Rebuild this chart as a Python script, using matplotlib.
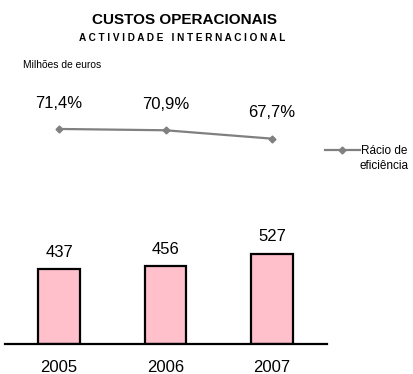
import matplotlib
matplotlib.use("Agg")
import matplotlib.pyplot as plt

plt.rcParams['font.family'] = ['Liberation Sans', 'DejaVu Sans']

years = ["2005", "2006", "2007"]
costs = [437, 456, 527]
cost_labels = ["437", "456", "527"]
ratio = [71.4, 70.9, 67.7]
ratio_labels = ["71,4%", "70,9%", "67,7%"]
legend_label = ["Rácio de", "eficiência"]

W, H = 413, 374
fig = plt.figure(figsize=(W / 100, H / 100), dpi=100)

# axes in pixel coordinates
x0, x1 = 5, 327
ytop, ybot = 60, 343.7
ax = fig.add_axes([x0 / W, 1 - ybot / H, (x1 - x0) / W, (ybot - ytop) / H])
ax.set_xlim(-0.507, 2.516)
ax.set_ylim(0, 1664)
xs = list(range(len(years)))
ax.bar(xs, costs, width=0.39, color="#ffc0cc", edgecolor="black", linewidth=1.6, zorder=2)
for x, v, lab in zip(xs, costs, cost_labels):
    ax.text(x, v + 55, lab, ha="center", va="bottom", fontsize=12)
for s in ["top", "right", "left"]:
    ax.spines[s].set_visible(False)
ax.spines["bottom"].set_linewidth(1.6)
ax.set_yticks([])
ax.set_xticks(xs)
ax.set_xticklabels(years, fontsize=12)
ax.tick_params(axis="x", length=0, pad=12)

ax2 = ax.twinx()
ax2.set_ylim(-10.5, 97.7)
ax2.plot(xs, ratio, color="#808080", linewidth=1.6, marker="D", markersize=3.5,
         markerfacecolor="#808080", markeredgecolor="#808080", label=legend_label[0])
for x, v, lab in zip(xs, ratio, ratio_labels):
    ax2.text(x, v + 7.0, lab, ha="center", va="bottom", fontsize=12)
ax2.set_yticks([])
for s in ax2.spines.values():
    s.set_visible(False)

leg = fig.legend(loc="center left", bbox_to_anchor=(314 / W, 1 - 151 / H), frameon=False,
                 fontsize=8.5, handlelength=3.0, handletextpad=0.1, borderpad=0.4)
fig.text(360 / W, 1 - 166 / H, legend_label[1], ha="left", va="center", fontsize=8.5)

fig.text(185 / W, 1 - 20 / H, "CUSTOS OPERACIONAIS", ha="center", va="center",
         fontsize=11, fontweight="bold")
fig.text(182 / W, 1 - 38 / H, "A C T I V I D A D E   I N T E R N A C I O N A L", ha="center",
         va="center", fontsize=7.2, fontweight="bold")
fig.text(23 / W, 1 - 65 / H, "Milhões de euros", ha="left", va="center", fontsize=7.4)

fig.savefig("out.png", dpi=100)
